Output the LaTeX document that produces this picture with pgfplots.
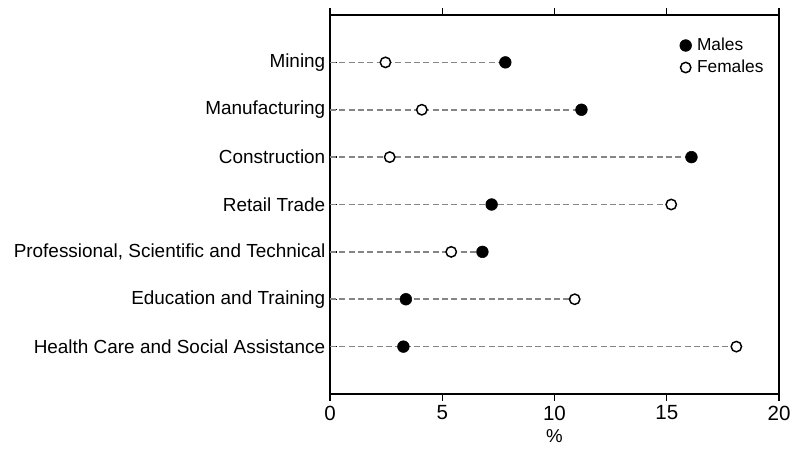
\documentclass[border=0pt]{standalone}
\usepackage{pgfplots}
\pgfplotsset{compat=1.18}
\usepackage{fontspec}
\setmainfont{Liberation Sans}
\definecolor{dashgray}{HTML}{858585}
\begin{document}
\begin{tikzpicture}
\begin{axis}[
  name=ax,
  scale only axis,
  width=336.75pt, height=284.25pt,
  xmin=0, xmax=20, ymin=0, ymax=8,
  y dir=reverse,
  xtick={0,5,10,15,20},
  ytick={1,2,3,4,5,6,7},
  yticklabels={Mining,Manufacturing,Construction,Retail Trade,{Professional, Scientific and Technical},Education and Training,Health Care and Social Assistance},
  xtick pos=both, xtick align=outside,
  ytick pos=left, ytick align=inside,
  major tick length=5.25pt,
  axis line style={line width=1pt},
  every tick/.style={black, line width=1pt},
  /pgf/number format/assume math mode=true,
  xticklabel style={font=\fontsize{15.4pt}{17pt}\selectfont},
  yticklabel style={font=\fontsize{14.2pt}{16pt}\selectfont},
  xlabel={\%},
  xlabel style={font=\fontsize{14pt}{16pt}\selectfont},
  legend image code/.code={%
    \path (0pt,0pt) (11.5pt,0pt);
    \draw[#1] plot coordinates {(4.2pt,0pt)};},
  legend style={draw=none, fill=none, at={(rel axis cs:0.972,0.95)}, anchor=north east,
    font=\fontsize{13pt}{15pt}\selectfont, row sep=1.6pt, inner sep=1pt,
    nodes={inner xsep=1pt}},
  legend cell align=left,
  clip=false,
]
% dashed connectors from 0 to the larger value
\addplot[dashgray, line width=1.3pt, dash pattern=on 4.6pt off 2.4pt, forget plot] coordinates {(0,1) (7.81,1)};
\addplot[dashgray, line width=1.3pt, dash pattern=on 4.6pt off 2.4pt, forget plot] coordinates {(0,2) (11.2,2)};
\addplot[dashgray, line width=1.3pt, dash pattern=on 4.6pt off 2.4pt, forget plot] coordinates {(0,3) (16.1,3)};
\addplot[dashgray, line width=1.3pt, dash pattern=on 4.6pt off 2.4pt, forget plot] coordinates {(0,4) (15.2,4)};
\addplot[dashgray, line width=1.3pt, dash pattern=on 4.6pt off 2.4pt, forget plot] coordinates {(0,5) (6.79,5)};
\addplot[dashgray, line width=1.3pt, dash pattern=on 4.6pt off 2.4pt, forget plot] coordinates {(0,6) (10.9,6)};
\addplot[dashgray, line width=1.3pt, dash pattern=on 4.6pt off 2.4pt, forget plot] coordinates {(0,7) (18.1,7)};
% Males
\addplot[only marks, mark=*, mark size=4.4pt, mark options={fill=black, draw=black}] coordinates {
(7.81,1) (11.2,2) (16.1,3) (7.2,4) (6.79,5) (3.38,6) (3.27,7)};
\addlegendentry{Males}
% Females
\addplot[only marks, mark=*, mark size=3.9pt, mark options={fill=white, draw=black, line width=1.1pt}] coordinates {
(2.47,1) (4.09,2) (2.66,3) (15.2,4) (5.4,5) (10.9,6) (18.1,7)};
\addlegendentry{Females}
\coordinate (sw) at (rel axis cs:0,0);
\coordinate (ne) at (rel axis cs:1,1);
\end{axis}
\pgfresetboundingbox
\path ([xshift=-247.5pt,yshift=-42pt]sw) rectangle ([xshift=9pt,yshift=11.25pt]ne);
\end{tikzpicture}
\end{document}
